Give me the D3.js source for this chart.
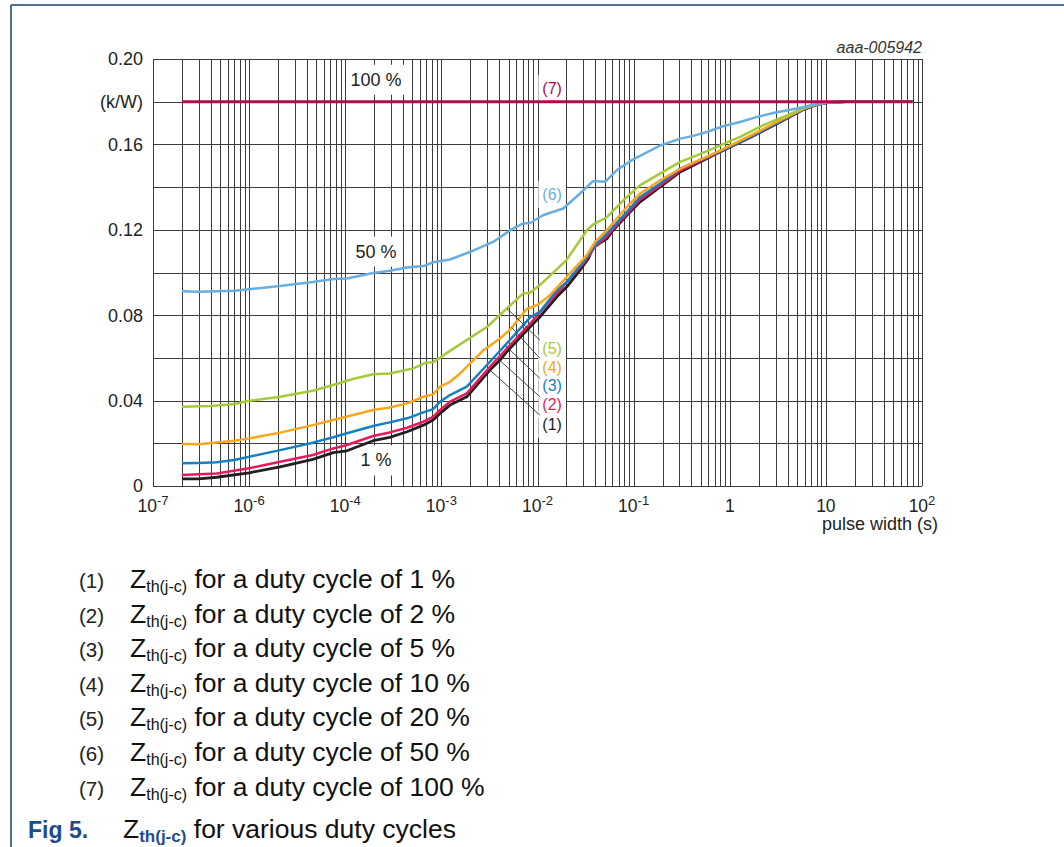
<!DOCTYPE html>
<html>
<head>
<meta charset="utf-8">
<script src="https://cdn.jsdelivr.net/npm/d3@7"></script>
<style>
  body { margin: 0; background: #fff; }
  svg { display: block; font-family: "Liberation Sans", Arial, sans-serif; }
</style>
</head>
<body>
<svg id="chart" width="1064" height="847"></svg>
<script>
// pulse width (s) vs Zth(j-c) (K/W)
var xTickValues = [1e-6, 1e-5, 1e-4, 1e-3, 1e-2, 1e-1, 1, 10, 100];
var xTickBase = ["10", "10", "10", "10", "10", "10", "1", "10", "10"];
var xTickExp = ["-7", "-6", "-4", "-3", "-2", "-1", "", "", "2"];
var yTickValues = [0, 0.04, 0.08, 0.12, 0.16, 0.18, 0.20];
var yTickLabels = ["0", "0.04", "0.08", "0.12", "0.16", "(k/W)", "0.20"];

var z1 = [[2e-6,0.0033],[3e-6,0.0033],[4.6e-6,0.0041],[1e-5,0.0062],[2.1e-5,0.0090],[4.6e-5,0.0125],
  [7.5e-5,0.0156],[1.04e-4,0.0165],[1.95e-4,0.0212],[2.9e-4,0.0228],[4.4e-4,0.0254],[6.5e-4,0.0285],
  [8.2e-4,0.0309],[9.7e-4,0.0340],[1.23e-3,0.0379],[1.84e-3,0.0418],[3.2e-3,0.0543],[4.08e-3,0.0590],
  [4.8e-3,0.0629],[8.4e-3,0.0746],[1.06e-2,0.0792],[1.59e-2,0.0886],[2.02e-2,0.0933],[2.77e-2,0.1011],
  [3.39e-2,0.1066],[3.8e-2,0.1120],[4.14e-2,0.1128],[5.3e-2,0.1159],[5.93e-2,0.1190],[8.5e-2,0.1268],
  [0.117,0.1331],[0.189,0.1401],[0.305,0.1471],[0.735,0.1557],[1.67,0.1635],[3.09,0.1697],
  [5.85,0.1763],[8.05,0.1786],[10.5,0.1796],[16,0.1800],[80,0.1800]];
var z2 = [[2e-6,0.0051],[4.6e-6,0.0059],[1e-5,0.0083],[2.1e-5,0.0114],[4.6e-5,0.0145],[7.5e-5,0.0176],
  [1.04e-4,0.0192],[1.95e-4,0.0234],[2.9e-4,0.0251],[4.4e-4,0.0273],[6.5e-4,0.0301],[8.2e-4,0.0324],
  [9.7e-4,0.0356],[1.23e-3,0.0395],[1.84e-3,0.0434],[3.2e-3,0.0558],[4.8e-3,0.0644],[8.4e-3,0.0761],
  [1.59e-2,0.0902],[3.0e-2,0.1042],[3.97e-2,0.1120],[5.3e-2,0.1170],[8.5e-2,0.1275],[0.117,0.1342],
  [0.189,0.1408],[0.305,0.1478],[0.735,0.1558],[1.67,0.1636],[3.09,0.1699],[5.85,0.1764],
  [8.05,0.1787],[10.5,0.1796],[16,0.1800],[80,0.1800]];
var z3 = [[2e-6,0.0106],[3e-6,0.0108],[4.6e-6,0.0111],[7e-6,0.0122],[1e-5,0.0137],[2.1e-5,0.0168],
  [4.6e-5,0.0203],[7.5e-5,0.0228],[1.04e-4,0.0247],[1.95e-4,0.0281],[2.9e-4,0.0298],[4.4e-4,0.0317],
  [6.5e-4,0.0345],[8.2e-4,0.0360],[9.7e-4,0.0395],[1.23e-3,0.0426],[1.84e-3,0.0465],[3.2e-3,0.0582],
  [4.8e-3,0.0668],[8.4e-3,0.0790],[1.06e-2,0.0816],[1.59e-2,0.0917],[2.02e-2,0.0956],[3.0e-2,0.1050],
  [3.97e-2,0.1128],[5.3e-2,0.1183],[8.5e-2,0.1284],[0.117,0.1354],[0.189,0.1417],[0.305,0.1487],
  [0.735,0.1560],[1.67,0.1638],[3.09,0.1700],[5.85,0.1765],[8.05,0.1787],[10.5,0.1796],[16,0.1800],[80,0.1800]];
var z4 = [[2e-6,0.0197],[3e-6,0.0195],[7e-6,0.0212],[1e-5,0.0223],[2.1e-5,0.0250],[4.6e-5,0.0285],
  [7.5e-5,0.0309],[1.95e-4,0.0356],[2.9e-4,0.0368],[4.4e-4,0.0387],[6.5e-4,0.0418],[8.2e-4,0.0429],
  [9.7e-4,0.0465],[1.23e-3,0.0488],[1.57e-3,0.0527],[2.34e-3,0.0605],[2.74e-3,0.0636],[4.08e-3,0.0691],
  [5.2e-3,0.0733],[7.7e-3,0.0828],[1.02e-2,0.0850],[1.35e-2,0.0894],[2.02e-2,0.0980],[3.26e-2,0.1081],
  [3.97e-2,0.1143],[5.3e-2,0.1200],[8.5e-2,0.1307],[0.117,0.1370],[0.189,0.1432],[0.33,0.1494],
  [0.735,0.1564],[1.67,0.1643],[3.09,0.1705],[5.85,0.1768],[8.05,0.1788],[10.5,0.1797],[16,0.1800],[80,0.1800]];
var z5 = [[2e-6,0.0371],[4e-6,0.0375],[7e-6,0.0384],[1e-5,0.0399],[2.1e-5,0.0418],[4.6e-5,0.0446],
  [7.5e-5,0.0473],[1.2e-4,0.0501],[1.95e-4,0.0523],[2.9e-4,0.0527],[5.1e-4,0.0551],[7e-4,0.0579],
  [8.2e-4,0.0580],[1.0e-3,0.0605],[1.23e-3,0.0633],[3e-3,0.0746],[4.8e-3,0.0832],[7.1e-3,0.0902],
  [8.4e-3,0.0905],[1.06e-2,0.0941],[2.0e-2,0.1058],[3.26e-2,0.1198],[3.8e-2,0.1225],[5.3e-2,0.1260],
  [8.5e-2,0.1354],[0.117,0.1409],[0.19,0.1464],[0.305,0.1518],[0.455,0.1549],[0.735,0.1588],
  [1.28,0.1635],[2.24,0.1690],[3.93,0.1736],[6.3,0.1775],[8.05,0.1790],[10.5,0.1797],[16,0.1800],[80,0.1800]];
var z6 = [[2e-6,0.0912],[3e-6,0.0910],[7e-6,0.0914],[1e-5,0.0922],[2.1e-5,0.0937],[4.6e-5,0.0956],
  [7.5e-5,0.0970],[1.04e-4,0.0972],[1.95e-4,0.0998],[2.9e-4,0.1008],[4.4e-4,0.1023],[6.5e-4,0.1030],
  [8.2e-4,0.1048],[1.23e-3,0.1061],[2e-3,0.1097],[3.45e-3,0.1143],[5.2e-3,0.1198],[7.1e-3,0.1230],
  [8.4e-3,0.1232],[1.14e-2,0.1268],[1.85e-2,0.1300],[2.77e-2,0.1370],[3.8e-2,0.1429],[5.05e-2,0.1425],
  [6.7e-2,0.1480],[9.9e-2,0.1530],[0.19,0.1595],[0.305,0.1627],[0.416,0.1640],[0.58,0.1658],
  [0.85,0.1685],[1.28,0.1705],[1.93,0.1729],[2.83,0.1747],[5.0,0.1768],[7.4,0.1786],[10.5,0.1796],
  [16,0.1800],[80,0.1800]];
var z7 = [[2e-6,0.18],[80,0.18]];

var series = [z1, z2, z3, z4, z5, z6, z7];
var seriesColors = ["#231f20", "#e8195a", "#1580c4", "#f9a61c", "#a6c93a", "#6aaee0", "#b3084f"];
var seriesWidths = [2.8, 2.5, 2.5, 2.5, 2.5, 2.5, 3];

var legendNums = ["(1)", "(2)", "(3)", "(4)", "(5)", "(6)", "(7)"];
var legendDuty = ["1 %", "2 %", "5 %", "10 %", "20 %", "50 %", "100 %"];

// text annotations inside the plot (t in s, z in K/W)
var dutyNotes = [["100 %", 2.09e-4, 0.1905], ["50 %", 2.09e-4, 0.110], ["1 %", 2.09e-4, 0.0122]];
var curveNotes = [["(7)", 6, 0.0142, 0.1863], ["(6)", 5, 0.0142, 0.1367], ["(5)", 4, 0.0142, 0.0646],
  ["(4)", 3, 0.0142, 0.0557], ["(3)", 2, 0.0142, 0.0473], ["(2)", 1, 0.0142, 0.0384], ["(1)", 0, 0.0142, 0.0290]];
// leader lines: series index, t on curve, end t, end z
var leaders = [[4, 4.8e-3, 1.06e-2, 0.0683], [3, 5.4e-3, 1.06e-2, 0.0598], [2, 4.6e-3, 1.06e-2, 0.0504],
  [1, 3.85e-3, 1.06e-2, 0.0418], [0, 3.2e-3, 1.06e-2, 0.0332]];

(function() {
  var svg = d3.select("#chart");
  var pLeft = 153, pRight = 922, pTop = 59, pBottom = 486;

  var x = d3.scaleLog().domain([1e-6, 1e2]).range([pLeft, pRight]);
  var y = d3.scaleLinear().domain([0, 0.2]).range([pBottom, pTop]);

  // page frame
  var navy = "#1b3d6d";
  svg.append("line").attr("x1", 11).attr("x2", 1064).attr("y1", 5).attr("y2", 5)
    .attr("stroke", navy).attr("stroke-width", 1.5);
  svg.append("line").attr("x1", 11).attr("x2", 11).attr("y1", 5).attr("y2", 847)
    .attr("stroke", navy).attr("stroke-width", 1.5);

  // grid
  var vLines = [];
  for (var e = -6; e < 2; e++) {
    for (var k = 1; k < 10; k++) vLines.push(k * Math.pow(10, e));
  }
  vLines.push(100);
  var hLines = d3.range(0, 11).map(function(i) { return i * 0.02; });

  var grid = svg.append("g").attr("stroke", "#3c3c3c").attr("stroke-width", 1);
  grid.selectAll(".v").data(vLines).enter().append("line")
    .attr("x1", function(d) { return Math.round(x(d)) + 0.5; })
    .attr("x2", function(d) { return Math.round(x(d)) + 0.5; })
    .attr("y1", pTop).attr("y2", pBottom);
  grid.selectAll(".h").data(hLines).enter().append("line")
    .attr("x1", pLeft).attr("x2", pRight)
    .attr("y1", function(d) { return Math.round(y(d)) + 0.5; })
    .attr("y2", function(d) { return Math.round(y(d)) + 0.5; });

  var boxLayer = svg.append("g");
  var curveLayer = svg.append("g");
  var textLayer = svg.append("g");

  // curves
  var line = d3.line().x(function(d) { return x(d[0]); }).y(function(d) { return y(d[1]); });
  curveLayer.selectAll("path").data(series).enter().append("path")
    .attr("fill", "none")
    .attr("stroke", function(d, i) { return seriesColors[i]; })
    .attr("stroke-width", function(d, i) { return seriesWidths[i]; })
    .attr("stroke-linejoin", "round")
    .attr("d", line);

  function valueAt(s, t) {
    var lt = Math.log10(t);
    for (var i = 1; i < s.length; i++) {
      var a = Math.log10(s[i - 1][0]), b = Math.log10(s[i][0]);
      if (lt <= b) {
        var f = (lt - a) / (b - a);
        return s[i - 1][1] + f * (s[i][1] - s[i - 1][1]);
      }
    }
    return s[s.length - 1][1];
  }

  // leader lines
  curveLayer.selectAll(".leader").data(leaders).enter().append("line")
    .attr("stroke", "#333").attr("stroke-width", 0.9)
    .attr("x1", function(d) { return x(d[1]); })
    .attr("y1", function(d) { return y(valueAt(series[d[0]], d[1])); })
    .attr("x2", function(d) { return x(d[2]); })
    .attr("y2", function(d) { return y(d[3]); });

  // axis labels
  textLayer.selectAll(".yl").data(yTickValues).enter().append("text")
    .attr("x", 143).attr("y", function(d) { return y(d); }).attr("dy", "0.36em")
    .attr("text-anchor", "end").attr("font-size", 18).attr("fill", "#222")
    .text(function(d, i) { return yTickLabels[i]; });

  var xl = textLayer.selectAll(".xl").data(xTickValues).enter().append("text")
    .attr("x", function(d) { return x(d); }).attr("y", 512)
    .attr("text-anchor", "middle").attr("font-size", 17.5).attr("fill", "#222");
  xl.append("tspan").text(function(d, i) { return xTickBase[i]; });
  xl.append("tspan").attr("font-size", 13).attr("dy", -7)
    .text(function(d, i) { return xTickExp[i]; });

  textLayer.append("text").attr("x", 938).attr("y", 530).attr("text-anchor", "end")
    .attr("font-size", 18).attr("fill", "#222").text("pulse width (s)");

  textLayer.append("text").attr("x", 922).attr("y", 53).attr("text-anchor", "end")
    .attr("font-size", 16).attr("font-style", "italic").attr("fill", "#333").text("aaa-005942");

  // notes inside plot with white knock-out boxes
  function note(txt, t, z, size, color) {
    var el = textLayer.append("text").attr("x", x(t)).attr("y", y(z)).attr("dy", "0.36em")
      .attr("text-anchor", "middle").attr("font-size", size).attr("fill", color).text(txt);
    var bb = el.node().getBBox();
    boxLayer.append("rect").attr("x", bb.x - 4).attr("y", bb.y - 5)
      .attr("width", bb.width + 8).attr("height", bb.height + 10).attr("fill", "#fff");
  }
  dutyNotes.forEach(function(d) { note(d[0], d[1], d[2], 18, "#222"); });
  curveNotes.forEach(function(d) { note(d[0], d[2], d[3], 16, seriesColors[d[1]]); });

  // legend below the chart
  var lg = svg.append("g");
  legendNums.forEach(function(n, i) {
    var by = 588 + i * 34.6;
    lg.append("text").attr("x", 79).attr("y", by).attr("font-size", 20.5).attr("fill", "#222").text(n);
    var t = lg.append("text").attr("x", 130).attr("y", by).attr("font-size", 26.5).attr("fill", "#111");
    t.append("tspan").text("Z");
    t.append("tspan").attr("font-size", 16).attr("dy", 4).text("th(j-c)");
    t.append("tspan").attr("dy", -4).text(" for a duty cycle of " + legendDuty[i]);
  });

  var cap = svg.append("g");
  cap.append("text").attr("x", 28).attr("y", 838).attr("font-size", 23).attr("font-weight", "bold")
    .attr("fill", "#1d4c8c").text("Fig 5.");
  var ct = cap.append("text").attr("x", 123).attr("y", 838).attr("font-size", 26.5).attr("fill", "#111");
  ct.append("tspan").text("Z");
  ct.append("tspan").attr("font-size", 17).attr("font-weight", "bold").attr("fill", "#1d4c8c")
    .attr("dy", 4).text("th(j-c)");
  ct.append("tspan").attr("dy", -4).text(" for various duty cycles");
})();
</script>
</body>
</html>
